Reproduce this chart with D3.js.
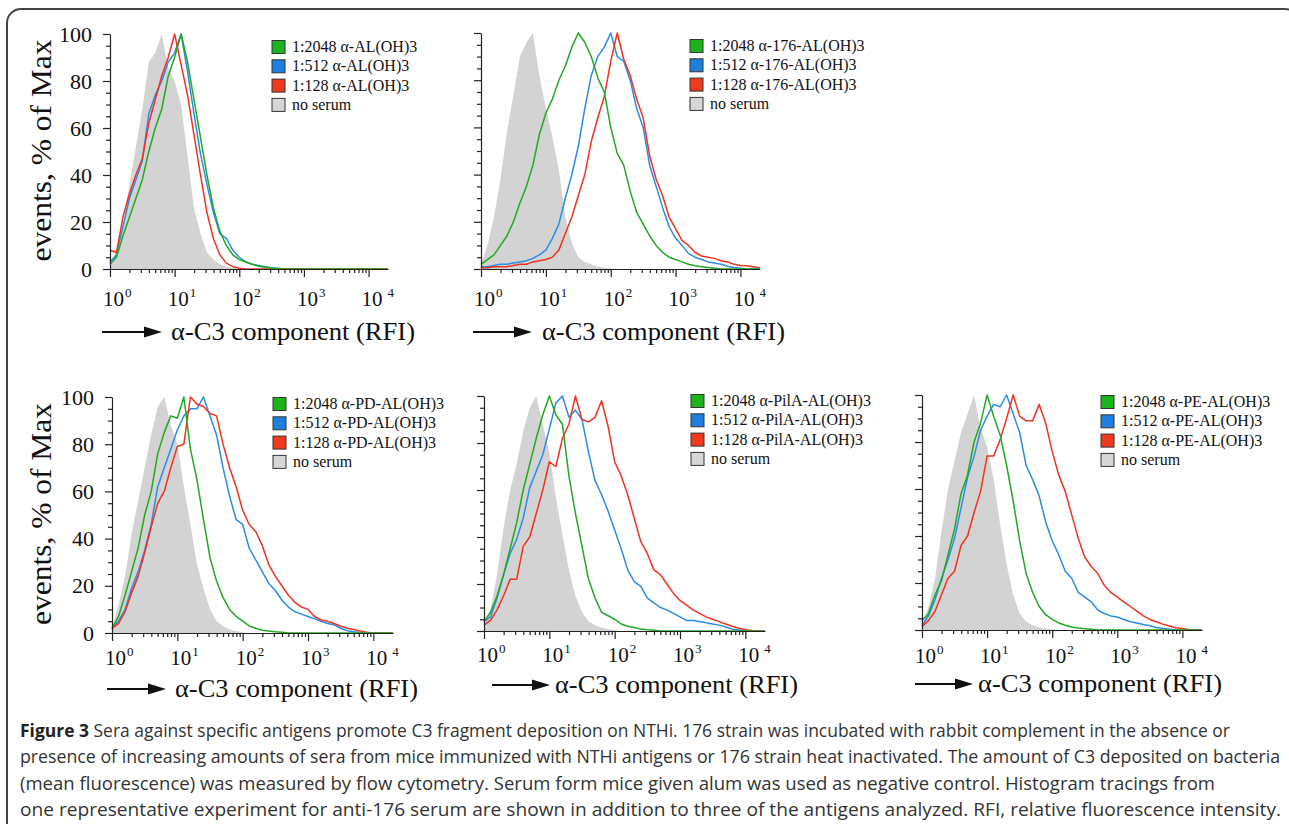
<!DOCTYPE html>
<html>
<head>
<meta charset="utf-8">
<script src="https://cdnjs.cloudflare.com/ajax/libs/d3/7.8.5/d3.min.js"></script>
<style>
  body { margin: 0; background: #fff; }
  svg text { font-family: "Liberation Serif", "Times New Roman", serif; fill: #111; }
  .cap { font-family: "Open Sans", "Noto Sans", sans-serif; fill: #333; }
</style>
</head>
<body>
<div id="graph"></div>
<script>
// channel grid, log10 of RFI
const logRFI = [0,0.1,0.2,0.3,0.4,0.5,0.6,0.7,0.8,0.9,1,1.1,1.2,1.3,1.4,1.5,1.6,1.7,1.8,1.9,2,2.1,2.2,2.3,2.4,2.5,2.6,2.7,2.8,2.9,3,3.1,3.2,3.3,3.4,3.5,3.6,3.7,3.8,3.9,4,4.1,4.2,4.3];
const decades = [1, 10, 100, 1000, 10000];
const decadeExp = ['0', '1', '2', '3', '4'];
const yTicks = [0, 20, 40, 60, 80, 100];
const dilutions = ['1:2048', '1:512', '1:128'];
const sera = ['α-AL(OH)3', 'α-176-AL(OH)3', 'α-PD-AL(OH)3', 'α-PilA-AL(OH)3', 'α-PE-AL(OH)3'];

// events, % of max  (panel 1: alum)
const al_none = [2,8,18,36,52,68,88,92,100,86,80,70,48,26,15,7,4,2,1,0.5,0,0,0,0,0,0,0,0,0,0,0,0,0,0,0,0,0,0,0,0,0,0,0,0];
const al_2048 = [2,5,14,22,30,38,50,60,68,82,90,100,88,72,56,40,26,16,10,6,4,3,2,1.2,0.7,0.4,0,0,0,0,0,0,0,0,0,0,0,0,0,0,0,0,0,0];
const al_512 = [3,6,18,30,38,46,66,74,80,88,92,100,84,66,49,36,24,15,13,8,5,3,2,1.5,1,0.5,0.3,0,0,0,0,0,0,0,0,0,0,0,0,0,0,0,0,0];
const al_128 = [8,7,22,32,40,47,62,72,82,90,100,87,74,57,40,24,13,6,2.5,1,0.3,0,0,0,0,0,0,0,0,0,0,0,0,0,0,0,0,0,0,0,0,0,0,0];
// panel 2: 176 strain
const s176_none = [2,10,22,38,58,74,90,96,100,82,68,56,42,22,11,5,3,2,1,0.5,0.2,0,0,0,0,0,0,0,0,0,0,0,0,0,0,0,0,0,0,0,0,0,0,0];
const s176_2048 = [2,4,6,10,14,20,28,35,44,57,66,72,80,86,94,100,96,90,81,75,60,49,44,33,24,19,14,10,7,5,4,3,2,1.4,1,0.6,0.3,0,0,0,0,0,0,0];
const s176_512 = [1,1,1.5,2,2,2.5,3,3.5,4.5,6,8,13,19,30,40,52,68,82,90,94,100,90,88,80,68,60,44,35,26,18,13,10,6.5,5,4,3,2.5,2,1.2,0.6,0.3,0,0,0];
const s176_128 = [0.5,0.5,1,1,1,1.5,2,2,3,3.5,4,5,8,15,22,31,40,54,64,73,88,100,89,82,72,64,48,38,31,22,17,12,10,7,5.5,5,4.5,3.5,3,2,1.5,1.4,1,0.5];
// panel 3: PD
const pd_none = [2,12,24,42,56,70,84,96,100,88,80,62,46,29,19,10,5,3,1.5,0.8,0.3,0,0,0,0,0,0,0,0,0,0,0,0,0,0,0,0,0,0,0,0,0,0,0];
const pd_2048 = [2,7,16,26,36,50,60,76,85,92,91,100,78,65,48,32,22,15,10,7,5,3,2,1.2,0.8,0.5,0.3,0,0,0,0,0,0,0,0,0,0,0,0,0,0,0,0,0];
const pd_512 = [2,5,10,19,26,35,46,62,70,78,86,92,95,95,100,92,84,70,58,48,46,36,31,26,21,18,14,11,9,8,7,6,5,4,3.5,2,1,0.5,0.2,0,0,0,0,0];
const pd_128 = [2,4,9,17,24,34,45,55,60,70,79,80,100,97,96,93,92,80,70,62,52,46,43,37,29,24,20,16,13,11,10,7,5.5,5,4,3,2,1.5,0.8,0.3,0,0,0,0];
// panel 4: PilA
const pila_none = [2,9,24,44,60,71,85,95,100,88,76,57,41,26,15,8,4,2.5,1.5,0.8,0.3,0,0,0,0,0,0,0,0,0,0,0,0,0,0,0,0,0,0,0,0,0,0,0];
const pila_2048 = [4,8,15,24,35,46,60,71,82,92,100,92,88,66,50,36,22,14,8,6.5,5,3,2,1.5,0.8,0.5,0.3,0,0,0,0,0,0,0,0,0,0,0,0,0,0,0,0,0];
const pila_512 = [4,6,14,24,33,39,48,61,68,75,86,97,100,91,94,90,76,64,58,51,43,35,26,21,19,14,12,10,9,7.5,6,4.5,4.5,4,3.5,3,2.5,1.7,0.8,0.4,0.2,0,0,0];
const pila_128 = [2.5,4.5,9,15,22,22,36,40,50,60,72,70,82,88,100,90,89,91,98,87,72,66,58,48,38,33,26,24,20,16,13,11,9,7.5,6,5,4,3,2,1.2,0.5,0.2,0,0];
// panel 5: PE
const pe_none = [1.5,10,22,42,60,72,84,92,100,86,78,64,45,28,15,7,3.5,2,1.1,0.6,0.3,0,0,0,0,0,0,0,0,0,0,0,0,0,0,0,0,0,0,0,0,0,0,0];
const pe_2048 = [4,7,15,21,32,43,58,66,80,88,100,91,83,70,55,38,24,16,10,6.5,4.5,3,2,1.3,0.8,0.5,0.3,0,0,0,0,0,0,0,0,0,0,0,0,0,0,0,0,0];
const pe_512 = [2,6,13,22,30,39,52,65,74,85,91,96,95,100,92,84,70,64,57,46,38,32,25,22,16,14,12,8.5,7,6,5.5,4.5,3.5,3,2.3,1.8,1.1,0.6,0.3,0,0,0,0,0];
const pe_128 = [1.5,4,8,15,22,25,36,40,50,59,74,74,81,90,100,91,89,89,96,88,76,66,59,49,39,31,27,24,19,16,14,12,10,8,6,4.5,3.5,2.5,1.7,1,0.6,0.2,0,0];

const captionLines = [
  'Sera against specific antigens promote C3 fragment deposition on NTHi. 176 strain was incubated with rabbit complement in the absence or',
  'presence of increasing amounts of sera from mice immunized with NTHi antigens or 176 strain heat inactivated. The amount of C3 deposited on bacteria',
  '(mean fluorescence) was measured by flow cytometry. Serum form mice given alum was used as negative control. Histogram tracings from',
  'one representative experiment for anti-176 serum are shown in addition to three of the antigens analyzed. RFI, relative fluorescence intensity.'
];

const lineColors = ['#22a822', '#2b8ce6', '#ee3322'];
const swatchColors = ['#1db31d', '#1f7fdc', '#f03a1e', '#d6d6d6'];
const grayFill = '#d3d3d3';

const w = 1289, h = 824;
const svg = d3.select('#graph').append('svg').attr('width', w).attr('height', h);

// frame round the figure
svg.append('rect')
  .attr('x', 7).attr('y', 9).attr('width', 1292).attr('height', 840).attr('rx', 14)
  .attr('fill', 'none').attr('stroke', '#444').attr('stroke-width', 2);

const panels = [
  {sera: sera[0], none: al_none, c: [al_2048, al_512, al_128], x0: 110, x1: 388, yTop: 34, yBot: 269, yLab: true, yLabX: 51,
   legX: 272, legY: 47, legDy: 19.3, tickY: 306, labY: 340, arrow: [102, 162], lab: [171, 415]},
  {sera: sera[1], none: s176_none, c: [s176_2048, s176_512, s176_128], x0: 481, x1: 760, yTop: 33, yBot: 269, yLab: false,
   legX: 690, legY: 46, legDy: 19.3, tickY: 306, labY: 340, arrow: [473, 532], lab: [542, 785]},
  {sera: sera[2], none: pd_none, c: [pd_2048, pd_512, pd_128], x0: 112, x1: 393, yTop: 397, yBot: 633, yLab: true, yLabX: 51,
   legX: 273, legY: 404, legDy: 19.3, tickY: 665, labY: 697, arrow: [107, 166], lab: [175, 418]},
  {sera: sera[3], none: pila_none, c: [pila_2048, pila_512, pila_128], x0: 484, x1: 765, yTop: 396, yBot: 631, yLab: false,
   legX: 691, legY: 401, legDy: 19.3, tickY: 662, labY: 693, arrow: [492, 550], lab: [555, 798]},
  {sera: sera[4], none: pe_none, c: [pe_2048, pe_512, pe_128], x0: 922, x1: 1202, yTop: 395, yBot: 630, yLab: false,
   legX: 1101, legY: 402, legDy: 19.3, tickY: 663, labY: 692, arrow: [915, 973], lab: [978, 1222]}
];

panels.forEach(p => {
  const g = svg.append('g');
  const x = d3.scaleLog().domain([1, 20000]).range([p.x0, p.x1]);
  const y = d3.scaleLinear().domain([0, 100]).range([p.yBot, p.yTop]);
  const pts = vals => vals.map((v, i) => [Math.pow(10, logRFI[i]), v]);

  // no serum, filled
  g.append('path')
    .datum(pts(p.none))
    .attr('d', d3.area().x(d => x(d[0])).y0(y(0)).y1(d => y(d[1])))
    .attr('fill', grayFill);

  // serum curves: blue, red, then green on top
  [1, 2, 0].forEach(k => {
    g.append('path')
      .datum(pts(p.c[k]))
      .attr('d', d3.line().x(d => x(d[0])).y(d => y(d[1])))
      .attr('fill', 'none')
      .attr('stroke', lineColors[k])
      .attr('stroke-width', 1.5)
      .attr('stroke-linejoin', 'round');
  });

  //x-Axis
  const minor = x.ticks().filter(t => t < 10000 && decades.indexOf(t) < 0);
  g.append('g')
    .attr('transform', 'translate(0,' + p.yBot + ')')
    .call(d3.axisBottom(x).tickValues(decades).tickSize(8).tickSizeOuter(0).tickFormat(''));
  g.append('g')
    .attr('transform', 'translate(0,' + p.yBot + ')')
    .call(d3.axisBottom(x).tickValues(minor).tickSize(4).tickFormat(''))
    .call(s => s.select('.domain').remove());

  //y-Axis
  g.append('g')
    .attr('transform', 'translate(' + p.x0 + ',0)')
    .call(d3.axisLeft(y).tickValues(yTicks).tickSize(7).tickSizeOuter(0).tickPadding(11)
      .tickFormat(p.yLab ? d3.format('d') : ''))
    .call(s => s.selectAll('text').style('font-size', '22px').style('font-family', '"Liberation Serif", serif'));
  g.append('g')
    .attr('transform', 'translate(' + p.x0 + ',0)')
    .call(d3.axisLeft(y).tickValues(y.ticks(20).filter(t => t % 20)).tickSize(4).tickFormat(''))
    .call(s => s.select('.domain').remove());

  g.selectAll('.domain, .tick line').attr('stroke', '#222').attr('stroke-width', 1.2);

  // decade labels
  decades.forEach((d, i) => {
    const t = g.append('text')
      .attr('x', x(d) - 7)
      .attr('y', p.tickY)
      .style('font-size', '21px');
    t.append('tspan').text('10');
    t.append('tspan')
      .attr('dy', -9)
      .attr('dx', i === 4 ? 5 : 1)
      .style('font-size', '13px')
      .text(decadeExp[i]);
  });

  //x-label with arrow
  const ay = p.labY - 8;
  g.append('line')
    .attr('x1', p.arrow[0]).attr('x2', p.arrow[1] - 14)
    .attr('y1', ay).attr('y2', ay)
    .attr('stroke', '#111').attr('stroke-width', 2);
  g.append('path')
    .attr('d', 'M' + (p.arrow[1] - 18) + ',' + (ay - 5.5) + 'L' + p.arrow[1] + ',' + ay + 'L' + (p.arrow[1] - 18) + ',' + (ay + 5.5) + 'Z')
    .attr('fill', '#111');
  g.append('text')
    .text('α-C3 component (RFI)')
    .attr('x', p.lab[0])
    .attr('y', p.labY)
    .attr('textLength', p.lab[1] - p.lab[0])
    .attr('lengthAdjust', 'spacingAndGlyphs')
    .style('font-size', '25px');

  //y-label
  if (p.yLab) {
    g.append('text')
      .text('events, % of Max')
      .attr('transform', 'translate(' + p.yLabX + ',' + ((p.yTop + p.yBot) / 2 - 1) + ') rotate(-90)')
      .attr('text-anchor', 'middle')
      .attr('textLength', 222)
      .attr('lengthAdjust', 'spacingAndGlyphs')
      .style('font-size', '30px');
  }

  // legend
  const names = dilutions.map(dl => dl + ' ' + p.sera).concat(['no serum']);
  names.forEach((n, i) => {
    const cy = p.legY + i * p.legDy;
    g.append('rect')
      .attr('x', p.legX).attr('y', cy - 6.5)
      .attr('width', 13).attr('height', 13)
      .attr('fill', swatchColors[i])
      .attr('stroke', '#333').attr('stroke-width', 1);
    g.append('text')
      .text(n)
      .attr('x', p.legX + 20)
      .attr('y', cy + 5)
      .style('font-size', '16px');
  });
});

// caption
const capY = [737, 763, 790, 816];
const capEnd = [1230, 1280, 1215, 1281];
captionLines.forEach((line, i) => {
  const t = svg.append('text')
    .attr('class', 'cap')
    .attr('x', 20)
    .attr('y', capY[i])
    .attr('textLength', capEnd[i] - 20)
    .attr('lengthAdjust', 'spacingAndGlyphs')
    .style('font-size', '17.5px');
  if (i === 0) {
    t.append('tspan').style('font-weight', 'bold').style('fill', '#222').text('Figure 3');
    t.append('tspan').text(' ' + line);
  } else {
    t.text(line);
  }
});
</script>
</body>
</html>
